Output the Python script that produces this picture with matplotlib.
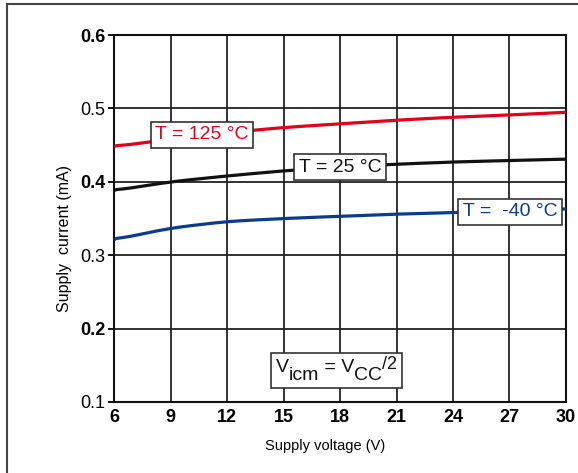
import matplotlib
matplotlib.use("Agg")
import matplotlib.pyplot as plt
from matplotlib.patches import Rectangle
from matplotlib.transforms import offset_copy
import numpy as np

plt.rcParams['font.family'] = ['Liberation Sans', 'DejaVu Sans']

voltage = [6, 9, 12, 15, 18, 21, 24, 27, 30]
i_125 = [0.448, 0.458, 0.467, 0.474, 0.479, 0.484, 0.488, 0.491, 0.495]
i_25 = [0.388, 0.400, 0.408, 0.415, 0.420, 0.424, 0.427, 0.429, 0.431]
i_m40 = [0.321, 0.337, 0.346, 0.350, 0.353, 0.356, 0.358, 0.361, 0.363]
x_ticks = [6, 9, 12, 15, 18, 21, 24, 27, 30]
y_ticks = [0.1, 0.2, 0.3, 0.4, 0.5, 0.6]
y_bold = [False, True, False, True, False, True]

fig = plt.figure(figsize=(5.78, 4.73), dpi=100)
ax = fig.add_axes([114/578, 1-402/473, (566-114)/578, (402-35)/473])

# outer frame
fig.patches.append(Rectangle((7/578, -0.1), 1.2, 1 - 4/473 + 0.1, transform=fig.transFigure,
                             fill=False, edgecolor='#444444', linewidth=1.5))

def smooth(x, y):
    xs = np.linspace(x[0], x[-1], 200)
    ys = np.interp(xs, x, y)
    k = 9
    pad = np.pad(ys, k, mode='edge')
    ker = np.ones(2*k+1)/(2*k+1)
    ys2 = np.convolve(pad, ker, mode='valid')
    ys2[0] = y[0]; ys2[-1] = y[-1]
    return xs, ys2

for y, c in [(i_125, '#e2001a'), (i_25, '#111111'), (i_m40, '#0b3c8c')]:
    xs, ys = smooth(voltage, y)
    ax.plot(xs, ys, color=c, lw=2.3, zorder=3, solid_capstyle='butt')

ax.set_xlim(6, 30)
ax.set_ylim(0.1, 0.6)
ax.set_xticks(x_ticks)
ax.set_yticks(y_ticks)
ax.set_xticklabels([str(v) for v in x_ticks], fontsize=13, fontweight='bold')
ax.set_yticklabels([f"{v:.1f}" for v in y_ticks], fontsize=13)
for lbl, b in zip(ax.get_yticklabels(), y_bold):
    if b:
        lbl.set_fontweight('bold')
ax.grid(True, color='#222222', lw=1.3)
ax.set_axisbelow(True)
ax.tick_params(axis='y', length=4, width=1.3, pad=2, direction='out')
ax.tick_params(axis='x', length=0, pad=5)
for s in ax.spines.values():
    s.set_linewidth(1.5)
    s.set_color('#111111')

ax.set_xlabel("Supply voltage (V)", fontsize=10.5)
ax.xaxis.set_label_coords((325-114)/452, -(439-402)/367)
ax.set_ylabel("Supply  current (mA)", fontsize=11.5)
ax.yaxis.set_label_coords((72-114)/452, (402-238)/367)

bbox = dict(boxstyle='square,pad=0.22', fc='white', ec='#333333', lw=1.2)
ax.text(10.67, 0.464, "T = 125 °C", color='#e2001a', fontsize=14, ha='center', va='center', bbox=bbox, zorder=5)
ax.text(18.0, 0.420, "T = 25 °C", color='#111111', fontsize=14, ha='center', va='center', bbox=bbox, zorder=5)
ax.text(27.03, 0.359, "T =  -40 °C", color='#0b3c8c', fontsize=14, ha='center', va='center', bbox=bbox, zorder=5)

# V_icm = V_CC/2 annotation box, built from pieces
box_x0, box_x1 = 6 + (271-114)/(452/24), 6 + (402-114)/(452/24)
box_y0, box_y1 = 0.6 - (388-35)/734, 0.6 - (353-35)/734
ax.add_patch(Rectangle((box_x0, box_y0), box_x1-box_x0, box_y1-box_y0, fc='white', ec='#333333', lw=1.2, zorder=5))
fig.canvas.draw()
r = fig.canvas.get_renderer()
pieces = [("V", 0, 14), ("icm", -6, 14), (" = V", 0, 14), ("CC", -6, 14), ("/2", 2, 13)]
widths = []
for s, dy, fs in pieces:
    t = ax.text(0, 0, s, fontsize=fs)
    widths.append(t.get_window_extent(r).width)
    t.remove()
total = sum(widths)
xc = (box_x0 + box_x1) / 2
yc = (box_y0 + box_y1) / 2 + 0.004
off = -total / 2
for (s, dy, fs), w in zip(pieces, widths):
    tr = offset_copy(ax.transData, fig=fig, x=off*72/fig.dpi, y=dy, units='points')
    ax.text(xc, yc, s, fontsize=fs, ha='left', va='center', transform=tr, zorder=6, color='#111111')
    off += w

fig.savefig("out.png", dpi=100)
